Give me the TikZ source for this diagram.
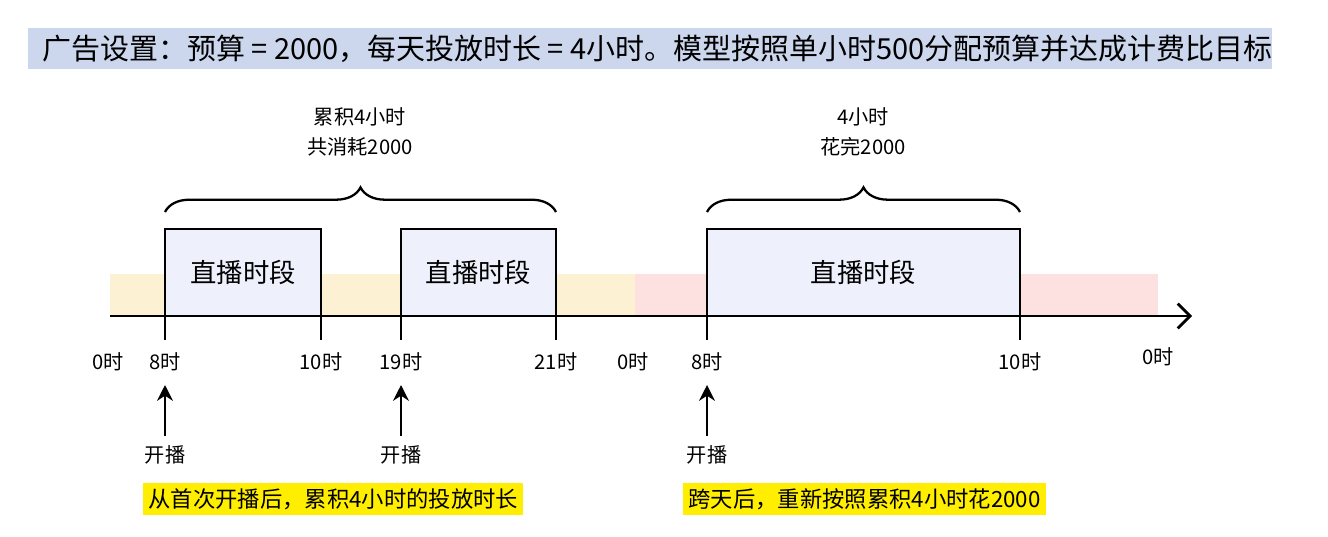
\documentclass[tikz,border=0pt]{standalone}
\usepackage{fontspec}
\setmainfont{Noto Sans CJK SC}
\usetikzlibrary{decorations.pathreplacing,arrows.meta}
\definecolor{titlebg}{HTML}{CCD7EE}
\definecolor{boxbg}{HTML}{EEF1FB}
\definecolor{yband}{HTML}{FDF1D3}
\definecolor{pband}{HTML}{FDE1E1}
\definecolor{hilite}{HTML}{FFEE00}
\tikzset{
  slot/.style={draw=black, line width=1.6pt, fill=boxbg},
  tick/.style={line width=1.3pt},
  ticklab/.style={font=\fontsize{11.5}{13}\selectfont, inner sep=1pt},
  up/.style={-{Stealth[length=9pt,width=9pt]}, line width=1.3pt},
  note/.style={font=\fontsize{12.7}{15}\selectfont, fill=hilite, inner sep=3pt},
  curly/.style={decorate, decoration={brace, amplitude=14pt}, line width=1.3pt}
}
\begin{document}
\begin{tikzpicture}[x=0.02cm, y=-0.02cm]
  \useasboundingbox (0,0) rectangle (1328,537);
  % title
  \fill[titlebg] (28,28) rectangle (1272,69);
  \node[anchor=west, font=\fontsize{16.5}{18}\selectfont] (title) at (36,49)
    {广告设置：预算 = 2000，每天投放时长 = 4小时。模型按照单小时500分配预算并达成计费比目标};

  % day bands
  \fill[yband] (110,274) rectangle (635,315);
  \fill[pband] (635,274) rectangle (1158,315);

  % broadcast slots
  \draw[slot] (165,229) rectangle (321,316) node[midway, font=\fontsize{15}{17}\selectfont] (s1) {直播时段};
  \draw[slot] (401,229) rectangle (556,316) node[midway, font=\fontsize{15}{17}\selectfont] (s2) {直播时段};
  \draw[slot] (707,229) rectangle (1020,316) node[midway, font=\fontsize{15}{17}\selectfont] (s3) {直播时段};

  % axis
  \coordinate (a0) at (110,316);
  \coordinate (a1) at (1192,316);
  \draw[line width=1.6pt, -{Straight Barb[length=7pt,width=14pt]}] (a0) -- (a1);

  % ticks
  \foreach \x in {165,321,401,556,707,1020}
    \draw[tick] (\x,316) -- (\x,340);

  % tick labels
  \foreach \x/\t in {108/0时,165/8时,321/10时,401/19时,556/21时,633/0时,707/8时,1020/10时}
    \node[ticklab] at (\x,362) {\t};
  \node[ticklab] (end) at (1158,357) {0时};

  % start markers
  \foreach \x [count=\i] in {165,401,707} {
    \node[ticklab] (go\i) at (\x,455) {开播};
    \coordinate (tip\i) at (\x,385);
    \draw[up] (go\i.north) ++(0,-8) -- (tip\i);
  }

  % braces
  \coordinate (b1l) at (165,212);
  \coordinate (b1r) at (556,212);
  \coordinate (b2l) at (707,212);
  \coordinate (b2r) at (1020,212);
  \draw[curly] (b1l) -- (b1r);
  \draw[curly] (b2l) -- (b2r);
  \node[ticklab, align=center] (sum1) at (360,132) {累积4小时\\[4pt]共消耗2000};
  \node[ticklab, align=center] (sum2) at (863,132) {4小时\\[4pt]花完2000};

  % notes
  \node[note, anchor=west] (n1) at (143,499) {从首次开播后，累积4小时的投放时长};
  \node[note, anchor=west] (n2) at (683,499) {跨天后，重新按照累积4小时花2000};
\end{tikzpicture}
\end{document}
